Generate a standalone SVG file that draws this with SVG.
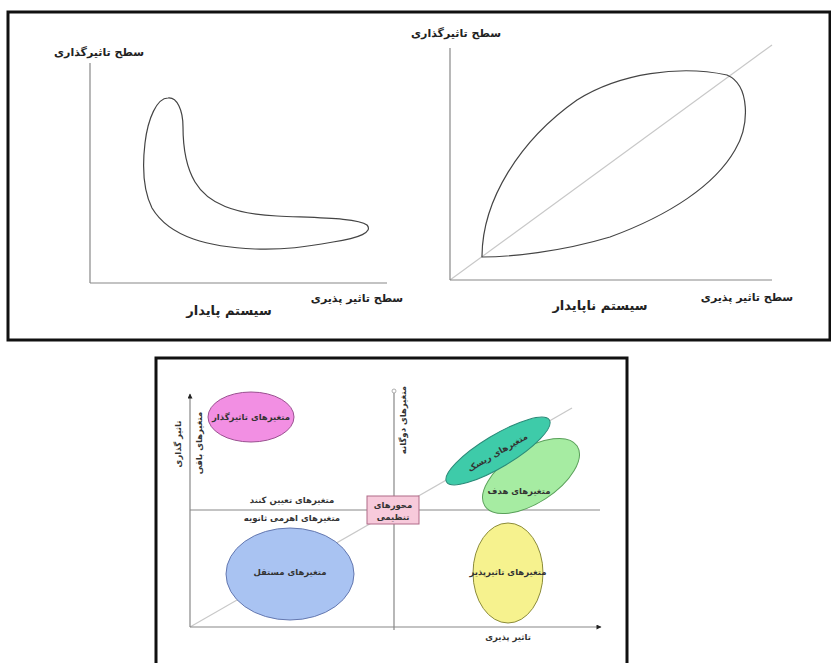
<svg xmlns="http://www.w3.org/2000/svg" width="831" height="663" viewBox="0 0 831 663">
<defs>
<style>
.frame{fill:none;stroke:#111;stroke-width:3}
.axis{stroke:#888;stroke-width:1.2;fill:none}
.diag{stroke:#c8c8c8;stroke-width:1.2;fill:none}
.curve{fill:none;stroke:#444;stroke-width:1.2}
.t{font-family:"DejaVu Sans",sans-serif;font-weight:bold;fill:#222;text-anchor:middle}
.lbl{font-size:11px}
.ttl{font-size:13px}
.s{font-size:8.5px;fill:#333}
</style>
<marker id="arr" viewBox="0 0 10 10" refX="9" refY="5" markerWidth="7" markerHeight="5" orient="auto" markerUnits="userSpaceOnUse">
<path d="M0,0 L10,5 L0,10 Z" fill="#222"/>
</marker>
</defs>
<rect width="831" height="663" fill="#fff"/>

<!-- top frame -->
<rect class="frame" x="8" y="12" width="822" height="328"/>

<!-- left panel -->
<g id="stable-panel">
<line class="axis" x1="90" y1="63" x2="90" y2="283"/>
<line class="axis" x1="90" y1="283" x2="387" y2="283"/>
<path class="curve" d="M168,98 C177,97 183,110 183,127 C183,145 185,165 195,182 C208,204 235,214 277,216 C320,218 358,218 367,225 C373,232 360,238 333,242 C305,247 285,250 255,249 C210,247 170,238 152,208 C142,188 143,160 145,143 C148,118 157,98 168,98 Z"/>
<text class="t lbl" x="99" y="56">سطح تاثیرگذاری</text>
<text class="t lbl" x="357" y="302">سطح تاثیر پذیری</text>
<text class="t ttl" x="229" y="315">سیستم پایدار</text>
</g>

<!-- right panel -->
<g id="unstable-panel">
<line class="diag" x1="450" y1="280" x2="772" y2="45"/>
<line class="axis" x1="450" y1="48" x2="450" y2="280"/>
<line class="axis" x1="450" y1="280" x2="772" y2="280"/>
<path class="curve" d="M482,257 C482,200 520,140 577,100 C620,73 680,65 727,75 C750,85 750,125 735,150 C715,185 670,215 610,237 C560,252 510,257 482,257 Z"/>
<text class="t lbl" x="456" y="37">سطح تاثیرگذاری</text>
<text class="t lbl" x="747" y="301">سطح تاثیر پذیری</text>
<text class="t ttl" x="600" y="310">سیستم ناپایدار</text>
</g>

<!-- bottom frame -->
<rect class="frame" x="156" y="358" width="471" height="320"/>

<g id="connectors">
<line class="diag" x1="190" y1="627" x2="572" y2="408" stroke="#aaa"/>
<line class="axis" x1="190" y1="510" x2="600" y2="510" stroke="#666"/>
<line class="axis" x1="394" y1="393" x2="394" y2="630" stroke="#999"/>
<circle cx="394" cy="391" r="2" fill="#fff" stroke="#999" stroke-width="0.8"/>
<line class="axis" x1="190" y1="627" x2="190" y2="394" stroke="#444" marker-end="url(#arr)"/>
<line class="axis" x1="190" y1="627" x2="601" y2="627" stroke="#444" marker-end="url(#arr)"/>
</g>

<text class="t s" x="292" y="503">متغیرهای تعیین کنند</text>
<text class="t s" x="292" y="521">متغیرهای اهرمی ثانویه</text>
<text class="t s" transform="translate(181,444) rotate(-90)">تاثیر گذاری</text>
<text class="t s" transform="translate(202,443) rotate(-90)">متغیرهای باقی</text>
<text class="t s" transform="translate(406,420) rotate(-90)">متغیرهای دوگانه</text>
<text class="t s" x="508" y="640">تاثیر پذیری</text>

<g id="node-influential">
<ellipse cx="251" cy="417" rx="43" ry="25" fill="#f28fe3" stroke="#9a5090" stroke-width="1"/>
<text class="t s" x="251" y="420">متغیرهای تاثیرگذار</text>
</g>

<g id="node-target">
<ellipse cx="531" cy="476" rx="55" ry="27" transform="rotate(-33 531 476)" fill="#a6eca2" stroke="#5aa05a" stroke-width="1"/>
<text class="t s" x="519" y="494">متغیرهای هدف</text>
</g>

<g id="node-risk">
<ellipse cx="498" cy="451" rx="60" ry="16" transform="rotate(-31 498 451)" fill="#3ecba9" stroke="#2a8a78" stroke-width="1"/>
<text class="t s" transform="translate(499,455) rotate(-30)">متغیرهای ریسک</text>
</g>

<g id="node-regulating">
<rect x="367" y="496" width="52" height="28" fill="#f7cadb" stroke="#b06a88" stroke-width="1"/>
<text class="t s" x="393" y="508">محورهای</text>
<text class="t s" x="393" y="520">تنظیمی</text>
</g>

<g id="node-independent">
<ellipse cx="290" cy="574" rx="64" ry="46" fill="#a9c3f2" stroke="#6478b0" stroke-width="1"/>
<text class="t s" x="290" y="575">متغیرهای مستقل</text>
</g>

<g id="node-dependent">
<ellipse cx="508" cy="573" rx="35" ry="50" fill="#f6f28e" stroke="#8b8b3a" stroke-width="1"/>
<text class="t s" x="508" y="575">متغیرهای تاثیرپذیر</text>
</g>
</svg>
